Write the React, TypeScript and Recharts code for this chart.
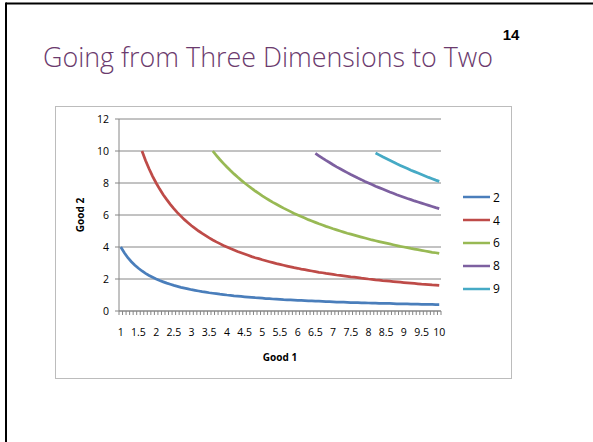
import React from "react";
import { LineChart, Line, XAxis, YAxis, CartesianGrid, Legend, Label } from "recharts";

// Good 1 categories (x-axis)
const good1: number[] = [
  1, 1.1, 1.2, 1.3, 1.4, 1.5, 1.6, 1.7, 1.8, 1.9,
  2, 2.1, 2.2, 2.3, 2.4, 2.5, 2.6, 2.7, 2.8, 2.9,
  3, 3.1, 3.2, 3.3, 3.4, 3.5, 3.6, 3.7, 3.8, 3.9,
  4, 4.1, 4.2, 4.3, 4.4, 4.5, 4.6, 4.7, 4.8, 4.9,
  5, 5.1, 5.2, 5.3, 5.4, 5.5, 5.6, 5.7, 5.8, 5.9,
  6, 6.1, 6.2, 6.3, 6.4, 6.5, 6.6, 6.7, 6.8, 6.9,
  7, 7.1, 7.2, 7.3, 7.4, 7.5, 7.6, 7.7, 7.8, 7.9,
  8, 8.1, 8.2, 8.3, 8.4, 8.5, 8.6, 8.7, 8.8, 8.9,
  9, 9.1, 9.2, 9.3, 9.4, 9.5, 9.6, 9.7, 9.8, 9.9,
  10,
];

// Every fifth category carries a label
const xTickLabels: string[] = [
  "1", "1.5", "2", "2.5", "3", "3.5", "4", "4.5", "5", "5.5",
  "6", "6.5", "7", "7.5", "8", "8.5", "9", "9.5", "10",
];

const yTicks: number[] = [0, 2, 4, 6, 8, 10, 12];

// Curve "2" starts at Good 1 = 1
const curve2Start = 1;
const curve2: number[] = [
  4.0, 3.64, 3.33, 3.08, 2.86, 2.67, 2.5, 2.35, 2.22, 2.11,
  2.0, 1.9, 1.82, 1.74, 1.67, 1.6, 1.54, 1.48, 1.43, 1.38,
  1.33, 1.29, 1.25, 1.21, 1.18, 1.14, 1.11, 1.08, 1.05, 1.03,
  1.0, 0.98, 0.95, 0.93, 0.91, 0.89, 0.87, 0.85, 0.83, 0.82,
  0.8, 0.78, 0.77, 0.75, 0.74, 0.73, 0.71, 0.7, 0.69, 0.68,
  0.67, 0.66, 0.65, 0.63, 0.63, 0.62, 0.61, 0.6, 0.59, 0.58,
  0.57, 0.56, 0.56, 0.55, 0.54, 0.53, 0.53, 0.52, 0.51, 0.51,
  0.5, 0.49, 0.49, 0.48, 0.48, 0.47, 0.47, 0.46, 0.45, 0.45,
  0.44, 0.44, 0.43, 0.43, 0.43, 0.42, 0.42, 0.41, 0.41, 0.4,
  0.4,
];

// Curve "4" starts at Good 1 = 1.6
const curve4Start = 1.6;
const curve4: number[] = [
  10.0, 9.41, 8.89, 8.42,
  8.0, 7.62, 7.27, 6.96, 6.67, 6.4, 6.15, 5.93, 5.71, 5.52,
  5.33, 5.16, 5.0, 4.85, 4.71, 4.57, 4.44, 4.32, 4.21, 4.1,
  4.0, 3.9, 3.81, 3.72, 3.64, 3.56, 3.48, 3.4, 3.33, 3.27,
  3.2, 3.14, 3.08, 3.02, 2.96, 2.91, 2.86, 2.81, 2.76, 2.71,
  2.67, 2.62, 2.58, 2.54, 2.5, 2.46, 2.42, 2.39, 2.35, 2.32,
  2.29, 2.25, 2.22, 2.19, 2.16, 2.13, 2.11, 2.08, 2.05, 2.03,
  2.0, 1.98, 1.95, 1.93, 1.9, 1.88, 1.86, 1.84, 1.82, 1.8,
  1.78, 1.76, 1.74, 1.72, 1.7, 1.68, 1.67, 1.65, 1.63, 1.62,
  1.6,
];

// Curve "6" starts at Good 1 = 3.6
const curve6Start = 3.6;
const curve6: number[] = [
  10.0, 9.73, 9.47, 9.23,
  9.0, 8.78, 8.57, 8.37, 8.18, 8.0, 7.83, 7.66, 7.5, 7.35,
  7.2, 7.06, 6.92, 6.79, 6.67, 6.55, 6.43, 6.32, 6.21, 6.1,
  6.0, 5.9, 5.81, 5.71, 5.63, 5.54, 5.45, 5.37, 5.29, 5.22,
  5.14, 5.07, 5.0, 4.93, 4.86, 4.8, 4.74, 4.68, 4.62, 4.56,
  4.5, 4.44, 4.39, 4.34, 4.29, 4.24, 4.19, 4.14, 4.09, 4.04,
  4.0, 3.96, 3.91, 3.87, 3.83, 3.79, 3.75, 3.71, 3.67, 3.64,
  3.6,
];

// Curve "8" starts at Good 1 = 6.5
const curve8Start = 6.5;
const curve8: number[] = [
  9.85, 9.7, 9.55, 9.41, 9.28,
  9.14, 9.01, 8.89, 8.77, 8.65, 8.53, 8.42, 8.31, 8.21, 8.1,
  8.0, 7.9, 7.8, 7.71, 7.62, 7.53, 7.44, 7.36, 7.27, 7.19,
  7.11, 7.03, 6.96, 6.88, 6.81, 6.74, 6.67, 6.6, 6.53, 6.46,
  6.4,
];

// Curve "9" starts at Good 1 = 8.2
const curve9Start = 8.2;
const curve9: number[] = [
  9.88, 9.76, 9.64, 9.53, 9.42, 9.31, 9.2, 9.1,
  9.0, 8.9, 8.8, 8.71, 8.62, 8.53, 8.44, 8.35, 8.27, 8.18,
  8.1,
];

const seriesNames: string[] = ["2", "4", "6", "8", "9"];
const seriesColors: string[] = ["#4a7ebb", "#be4b48", "#98b954", "#7d60a0", "#46aac5"];

const seriesDefs = [
  { key: "2", start: curve2Start, values: curve2 },
  { key: "4", start: curve4Start, values: curve4 },
  { key: "6", start: curve6Start, values: curve6 },
  { key: "8", start: curve8Start, values: curve8 },
  { key: "9", start: curve9Start, values: curve9 },
];

const data = good1.map((g, i) => {
  const row: Record<string, number | string | null> = { x: String(g) };
  seriesDefs.forEach((s) => {
    const startIdx = good1.indexOf(s.start);
    const j = i - startIdx;
    row[s.key] = j >= 0 && j < s.values.length ? s.values[j] : null;
  });
  return row;
});

const AXIS_GREY = "#868686";
const FONT = "'Open Sans', 'Liberation Sans', sans-serif";
const HALF_BAND = 1.77;

const XTick = (props: any) => {
  const { x, y, payload } = props;
  const i: number = payload.index;
  const labelIdx = i % 5 === 0 ? i / 5 : -1;
  const last = i === good1.length - 1;
  return (
    <g>
      <line x1={x - HALF_BAND} x2={x - HALF_BAND} y1={y} y2={y + 4} stroke={AXIS_GREY} strokeWidth={1} />
      {last && (
        <line x1={x + HALF_BAND} x2={x + HALF_BAND} y1={y} y2={y + 4} stroke={AXIS_GREY} strokeWidth={1} />
      )}
      {labelIdx >= 0 && (
        <text x={x} y={y + 25} textAnchor="middle" fontSize={10.5} fontFamily={FONT} fill="#000">
          {xTickLabels[labelIdx]}
        </text>
      )}
    </g>
  );
};

const LegendContent = () => (
  <div style={{ fontFamily: FONT, fontSize: 12, color: "#000" }}>
    {seriesNames.map((n, i) => (
      <div key={n} style={{ height: 22.8, display: "flex", alignItems: "center" }}>
        <svg width={28} height={6} style={{ display: "block" }}>
          <line x1={0} x2={27} y1={3} y2={3} stroke={seriesColors[i]} strokeWidth={2.5} />
        </svg>
        <span style={{ marginLeft: 2, lineHeight: "13px" }}>{n}</span>
      </div>
    ))}
  </div>
);

export default function App() {
  return (
    <div style={{ position: "absolute", left: 0, top: 0, width: 593, height: 442, background: "#fff", overflow: "hidden" }}>
      <svg width={593} height={442} style={{ position: "absolute", left: 0, top: 0 }}>
        <line x1={6} x2={593} y1={3.5} y2={3.5} stroke="#000" strokeWidth={2} />
        <line x1={6} x2={6} y1={2.5} y2={442} stroke="#000" strokeWidth={2} />
        <text x={43} y={67} fontSize={27} fontFamily="'Open Sans', sans-serif" fontWeight={300} fill="#6b3a6d" textLength={450} lengthAdjust="spacingAndGlyphs">
          Going from Three Dimensions to Two
        </text>
        <text x={511} y={40} textAnchor="middle" fontSize={15} fontWeight="bold" fontFamily="'Liberation Sans Narrow', 'Liberation Sans', sans-serif" fill="#000">
          14
        </text>
        <rect x={55.5} y={106.5} width={456} height={272} fill="none" stroke="#bcbcbc" strokeWidth={1} />
      </svg>
      <div style={{ position: "absolute", left: 0, top: 0 }}>
        <LineChart width={593} height={442} data={data} margin={{ top: 119, right: 152, bottom: 101, left: 79 }}>
          <CartesianGrid vertical={false} stroke={AXIS_GREY} strokeWidth={1} />
          <XAxis
            dataKey="x"
            type="category"
            interval={0}
            height={30}
            padding={{ left: HALF_BAND, right: HALF_BAND }}
            tickLine={false}
            tickSize={0}
            tickMargin={0}
            axisLine={{ stroke: AXIS_GREY }}
            tick={<XTick />}
          >
            <Label
              content={() => (
                <text x={280} y={361} textAnchor="middle" fontSize={10} fontWeight="bold" fontFamily={FONT} fill="#000">
                  Good 1
                </text>
              )}
            />
          </XAxis>
          <YAxis
            width={40}
            domain={[0, 12]}
            ticks={yTicks}
            interval={0}
            tickSize={4}
            tickMargin={6}
            tickLine={{ stroke: AXIS_GREY }}
            axisLine={{ stroke: AXIS_GREY }}
            tick={{ fontSize: 10.5, fontFamily: FONT, fill: "#000" }}
          >
            <Label
              content={() => (
                <text x={84} y={215} transform="rotate(-90 84 215)" textAnchor="middle" fontSize={10} fontWeight="bold" fontFamily={FONT} fill="#000">
                  Good 2
                </text>
              )}
            />
          </YAxis>
          <Legend
            layout="horizontal"
            verticalAlign="middle"
            align="center"
            content={<LegendContent />}
            wrapperStyle={{ position: "absolute", left: 463, top: 186, width: 60, height: 120 }}
          />
          {seriesDefs.map((s, i) => (
            <Line
              key={s.key}
              type="linear"
              dataKey={s.key}
              name={seriesNames[i]}
              stroke={seriesColors[i]}
              strokeWidth={2.75}
              dot={false}
              activeDot={false}
              connectNulls={false}
              isAnimationActive={false}
            />
          ))}
        </LineChart>
      </div>
    </div>
  );
}
